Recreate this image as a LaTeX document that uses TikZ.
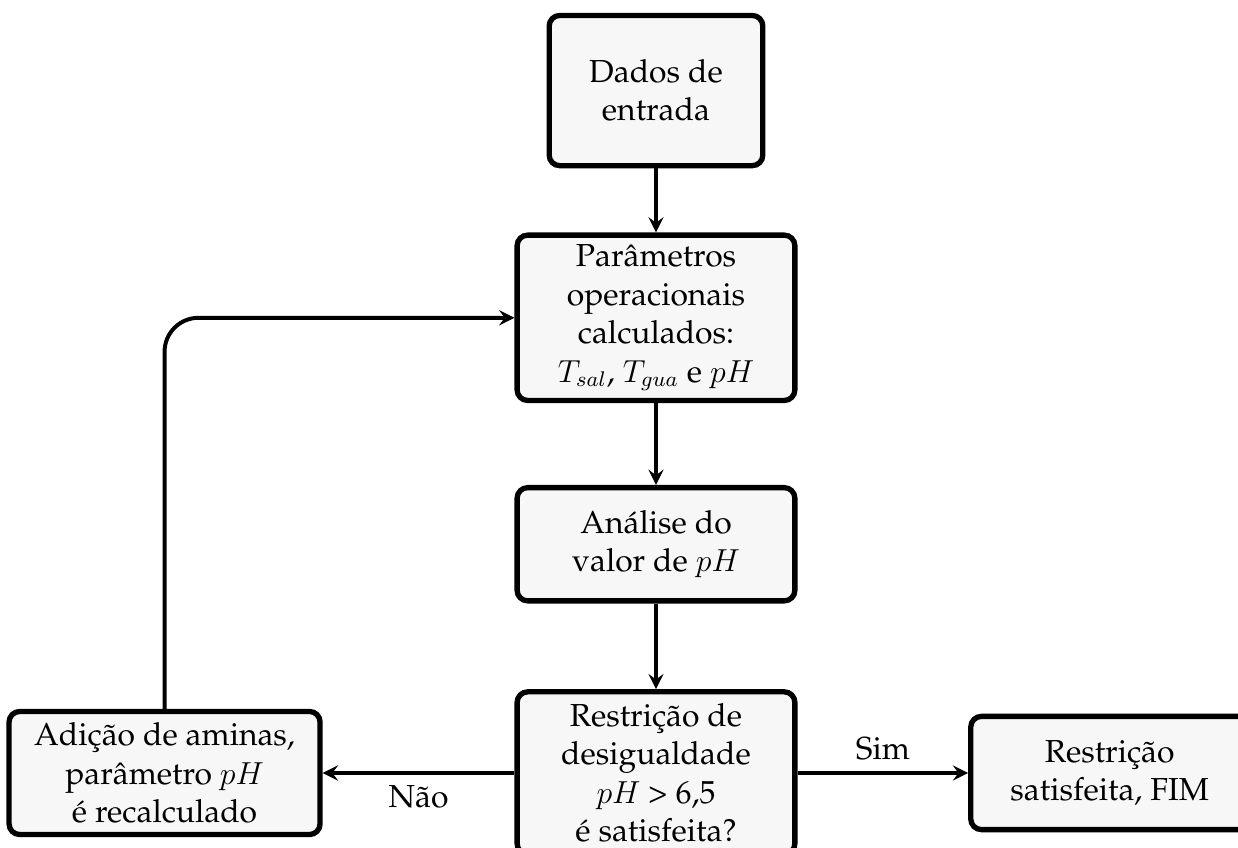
\documentclass[tikz,border=0pt,12pt]{standalone}
\usepackage[T1]{fontenc}
\renewcommand{\rmdefault}{ppl}
\usetikzlibrary{arrows}
\tikzset{
  caixa/.style={draw, line width=2pt, rounded corners=4pt, fill=gray!6,
    align=center, minimum width=3.68cm, inner sep=3pt},
  seta/.style={->, line width=1.5pt}
}
\begin{document}
\begin{tikzpicture}[>=stealth]
 \useasboundingbox (0,0) rectangle (16.4,11.23);
 \node[caixa, minimum width=2.83cm, minimum height=1.99cm] (dados) at (8.69,10.03) {Dados de\\entrada};
 \node[caixa, minimum height=2.19cm] (param) at (8.69,7.02) {Parâmetros\\operacionais\\calculados:\\$T_{sal}$, $T_{gua}$ e $pH$};
 \node[caixa, minimum height=1.50cm] (analise) at (8.69,4.02) {Análise do\\valor de $pH$};
 \node[caixa, minimum height=2.15cm] (restr) at (8.69,0.99) {Restrição de\\desigualdade\\$pH$ > 6,5\\é satisfeita?};
 \node[caixa, minimum width=4.12cm, minimum height=1.63cm] (adicao) at (2.18,0.99) {Adição de aminas,\\parâmetro $pH$\\é recalculado};
 \node[caixa, minimum height=1.50cm] (fim) at (14.70,0.99) {Restrição\\satisfeita, FIM};
 \draw[seta] (dados) -- (param);
 \draw[seta] (param) -- (analise);
 \draw[seta] (analise) -- (restr);
 \draw[seta] (restr) -- node[below] {Não} (adicao);
 \draw[seta] (restr) -- node[above] {Sim} (fim);
 \draw[seta, rounded corners=0.45cm] (adicao.north) |- (param.west);
\end{tikzpicture}
\end{document}
